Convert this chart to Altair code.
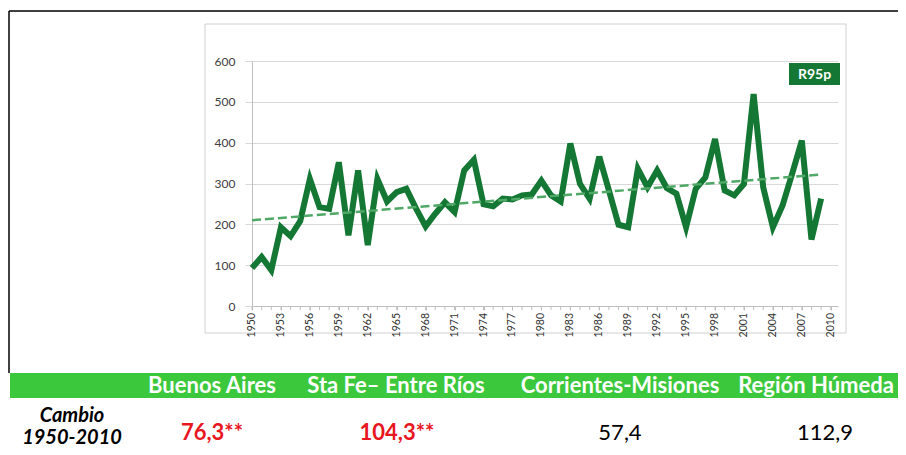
import altair as alt
import pandas as pd

# ---- data ----
years = list(range(1950, 2010))
r95p = [93, 120, 88, 193, 171, 208, 311, 242, 238, 352,
        173, 332, 149, 311, 256, 279, 287, 239, 195, 226,
        254, 230, 332, 358, 249, 244, 263, 261, 271, 273,
        307, 271, 256, 398, 299, 263, 366, 283, 199, 193,
        336, 291, 332, 289, 275, 193, 287, 315, 409, 283,
        271, 299, 519, 290, 193, 246, 324, 405, 163, 263]
trend_years = [1950, 2009]
trend_values = [210, 322]
y_ticks = [0, 100, 200, 300, 400, 500, 600]
x_minor_ticks = list(range(1950, 2011))
x_labels = list(range(1950, 2011, 3))
series_label = "R95p"
row_title = ["Cambio", "1950-2010"]
regions = ["Buenos Aires", "Sta Fe\u2013 Entre Ríos", "Corrientes-Misiones", "Región Húmeda"]
changes = ["76,3**", "104,3**", "57,4", "112,9"]
significant = [True, True, False, False]

# ---- layout (pixels relative to the plot area) ----
W, H = 586, 245
head_x = [-40, 144, 368, 564]
val_x = [-40, 145, 368, 573]
FONT = "Lato"
DARK = "#157734"
BAND = "#3CC83C"
RED = "#E8161E"

df = pd.DataFrame({"year": years, "value": r95p})
tr = pd.DataFrame({"year": trend_years, "value": trend_values})
mt = pd.DataFrame({"year": x_minor_ticks})
lb = pd.DataFrame({"year": x_labels, "label": [str(v) for v in x_labels]})
one = pd.DataFrame({"k": [0]})

xscale = alt.Scale(domain=[1950, 2010.75], nice=False, zero=False)
yscale = alt.Scale(domain=[0, 600], nice=False)

xaxis = alt.Axis(values=x_labels, labels=False, grid=False, title=None,
                 tickSize=4, tickColor="#BFBFBF", domainColor="#BFBFBF")
yaxis = alt.Axis(values=y_ticks, grid=True, gridColor="#D9D9D9", title=None,
                 labelFont=FONT, labelFontSize=12, labelColor="#404040",
                 tickSize=7, tickColor="#D9D9D9", domainColor="#BFBFBF",
                 labelPadding=10)
X = alt.X("year:Q", scale=xscale, axis=xaxis)
Y = alt.Y("value:Q", scale=yscale, axis=yaxis)

# background decorations
frame = alt.Chart(one).mark_rect(fillOpacity=0, stroke="#D0D0D0", strokeWidth=1).encode(
    x=alt.value(-47), x2=alt.value(594), y=alt.value(-37), y2=alt.value(272))
top_border = alt.Chart(one).mark_rule(color="black", strokeWidth=1.5).encode(
    x=alt.value(-243), x2=alt.value(W + 60), y=alt.value(-50))
left_border = alt.Chart(one).mark_rule(color="black", strokeWidth=1.5).encode(
    x=alt.value(-243), y=alt.value(-50), y2=alt.value(312))
band = alt.Chart(one).mark_rect(fill=BAND).encode(
    x=alt.value(-242), x2=alt.value(W + 60), y=alt.value(312), y2=alt.value(337))

line = alt.Chart(df).mark_line(color=DARK, strokeWidth=6, strokeJoin="miter").encode(
    x=X, y=Y)
minor = alt.Chart(mt).mark_rule(color="#BFBFBF", strokeWidth=1).encode(
    x=X, y=alt.value(H), y2=alt.value(H + 4))
xlabels = alt.Chart(lb).mark_text(font=FONT, fontSize=10.5, color="#333333", angle=270,
                                  align="right", baseline="middle").encode(
    x=X, y=alt.value(H + 7), text="label:N")
trend = alt.Chart(tr).mark_line(color="#4FA866", strokeWidth=2.5, strokeDash=[9, 4]).encode(
    x=X, y=Y)

tag_box = alt.Chart(one).mark_rect(fill=DARK).encode(
    x=alt.value(537), x2=alt.value(588), y=alt.value(2), y2=alt.value(24))
tag_text = alt.Chart(one).mark_text(font=FONT, fontSize=14, fontWeight="bold",
                                    color="white").encode(
    x=alt.value(562.5), y=alt.value(13.5), text=alt.value(series_label))

layers = [frame, top_border, left_border, band, line, minor, xlabels, trend, tag_box, tag_text]

for i, lab in enumerate(regions):
    layers.append(alt.Chart(one).mark_text(font=FONT, fontSize=22, fontWeight="bold",
                                           color="white").encode(
        x=alt.value(head_x[i]), y=alt.value(325), text=alt.value(lab)))
    sig = significant[i]
    layers.append(alt.Chart(one).mark_text(font=FONT, fontSize=22,
                                           fontWeight="bold" if sig else "normal",
                                           color=RED if sig else "black").encode(
        x=alt.value(val_x[i]), y=alt.value(372), text=alt.value(changes[i])))

for j, t in enumerate(row_title):
    layers.append(alt.Chart(one).mark_text(font=FONT, fontSize=20, fontWeight="bold",
                                           fontStyle="italic", color="black").encode(
        x=alt.value(-180), y=alt.value(355 + 22 * j), text=alt.value(t)))

chart = alt.layer(*layers).properties(
    width=W, height=H,
    autosize=alt.AutoSizeParams(type="none"),
    padding={"left": 244, "top": 53, "right": 60, "bottom": 141},
    background="white",
).configure_view(stroke=None)

chart.save("out.html", embed_options={"renderer": "svg", "actions": False})
